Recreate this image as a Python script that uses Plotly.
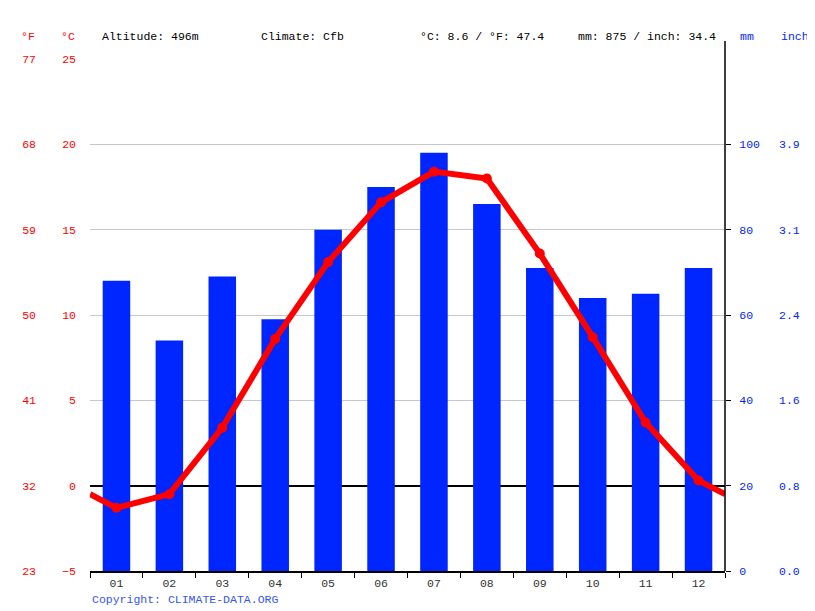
import numpy as np
import plotly.graph_objects as go

months = ["01", "02", "03", "04", "05", "06", "07", "08", "09", "10", "11", "12"]
precip_mm = [68, 54, 69, 59, 80, 90, 98, 86, 71, 64, 65, 71]
temp_c = [-1.3, -0.5, 3.4, 8.6, 13.1, 16.6, 18.4, 18.0, 13.6, 8.7, 3.7, 0.3]

c_ticks = [-5, 0, 5, 10, 15, 20, 25]
f_labels = ["23", "32", "41", "50", "59", "68", "77"]
mm_ticks = [0, 20, 40, 60, 80, 100]
inch_labels = ["0.0", "0.8", "1.6", "2.4", "3.1", "3.9"]

header_texts = ["Altitude: 496m", "Climate: Cfb", "°C: 8.6 / °F: 47.4", "mm: 875 / inch: 34.4"]
header_px = [100, 259, 418, 576]

OFF = 8  # page body margin
W, H = 815 - OFF, 611 - OFF
L, R, T, B = 90 - OFF, 90, 59 - OFF, 40
pw, ph = W - L - R, H - T - B

RED = "#ff0000"
BLUE = "#0026ff"
FONT = "Liberation Mono, DejaVu Sans Mono, monospace"
FS = 11.5

x = np.arange(1, 13)
# line continues half a month beyond the edges towards the Dec/Jan mean
edge = (temp_c[0] + temp_c[-1]) / 2
line_x = np.concatenate([[0.5], x, [12.5]])
line_y = np.concatenate([[edge], temp_c, [edge]])

fig = go.Figure()
fig.add_trace(go.Bar(x=x, y=precip_mm, yaxis="y", marker=dict(color=BLUE, line=dict(width=0)),
                     width=0.52, showlegend=False))
fig.add_trace(go.Scatter(x=line_x, y=line_y, yaxis="y2", mode="lines", line=dict(color=RED, width=6),
                         showlegend=False))
fig.add_trace(go.Scatter(x=x, y=temp_c, yaxis="y2", mode="markers", marker=dict(color=RED, size=10),
                         showlegend=False))
# invisible traces to activate label axes
fig.add_trace(go.Scatter(x=[1], y=[0], yaxis="y3", mode="markers", marker=dict(opacity=0), showlegend=False, hoverinfo="skip"))
fig.add_trace(go.Scatter(x=[1], y=[0], yaxis="y4", mode="markers", marker=dict(opacity=0), showlegend=False, hoverinfo="skip"))

fig.update_layout(
    width=W, height=H,
    margin=dict(l=L, r=R, t=T, b=B, autoexpand=False),
    paper_bgcolor="white", plot_bgcolor="white",
    font=dict(family=FONT, size=FS),
    xaxis=dict(range=[0.5, 12.5], tickmode="array", tickvals=list(x), ticktext=months,
               ticks="", showgrid=False, showline=True, linecolor="black", linewidth=1.5,
               zeroline=False, tickfont=dict(color="#333333", size=FS),
               minor=dict(tickmode="linear", tick0=0.5, dtick=1, ticks="outside", ticklen=5,
                          tickcolor="black", tickwidth=1, showgrid=False)),
    # precipitation axis (primary, carries the grid)
    yaxis=dict(range=[0, 120], side="right", tickmode="array", tickvals=mm_ticks,
               showgrid=True, gridcolor="#c8c8c8", gridwidth=1, zeroline=False, showline=False,
               ticks="outside", ticklen=5, tickcolor="black",
               tickfont=dict(color=BLUE, size=FS), ticklabelstandoff=6,
               minor=dict(tickmode="array", tickvals=[120], showgrid=True, gridcolor="#c8c8c8",
                          gridwidth=1, ticks="")),
    # temperature axis (overlay, red labels at left)
    yaxis2=dict(range=[-5, 25], overlaying="y", side="left", tickmode="array", tickvals=c_ticks,
                showgrid=False, zeroline=True, zerolinecolor="black", zerolinewidth=1.5,
                showline=False, ticks="", tickfont=dict(color=RED, size=FS),
                ticklabelstandoff=13),
    yaxis3=dict(range=[-5, 25], overlaying="y", side="left", tickmode="array", tickvals=c_ticks,
                ticktext=f_labels, showgrid=False, zeroline=False, showline=False, ticks="",
                tickfont=dict(color=RED, size=FS), ticklabelstandoff=53),
    yaxis4=dict(range=[0, 120], overlaying="y", side="right", tickmode="array", tickvals=mm_ticks,
                ticktext=inch_labels, showgrid=False, zeroline=False, showline=False, ticks="",
                tickfont=dict(color=BLUE, size=FS), ticklabelstandoff=53),
    bargap=0.48,
)

# right vertical axis line extending above the plot
fig.add_shape(type="line", xref="paper", yref="paper", x0=1, x1=1, y0=0, y1=1 + 18 / ph,
              line=dict(color="black", width=1.5))

def px_x(p):
    return (p - 90) / pw

def px_y(p):
    return (571 - p) / ph

hy = px_y(36)
for t, p in zip(header_texts, header_px):
    fig.add_annotation(text=t, xref="paper", yref="paper", x=px_x(p), y=hy, xanchor="left",
                       yanchor="middle", showarrow=False, font=dict(color="black", size=FS))
for t, p, c in [("°F", 37, RED), ("°C", 77, RED)]:
    fig.add_annotation(text=t, xref="paper", yref="paper", x=px_x(p), y=hy, xanchor="right",
                       yanchor="middle", showarrow=False, font=dict(color=c, size=FS))
for t, p in [("mm", 738), ("inch", 779)]:
    fig.add_annotation(text=t, xref="paper", yref="paper", x=px_x(p), y=hy, xanchor="left",
                       yanchor="middle", showarrow=False, font=dict(color=BLUE, size=FS))
fig.add_annotation(text="Copyright: CLIMATE-DATA.ORG", xref="paper", yref="paper", x=0,
                   y=px_y(599), xanchor="left", yanchor="middle", showarrow=False,
                   font=dict(color="#3355ff", size=FS))

fig.write_html("out.html")
